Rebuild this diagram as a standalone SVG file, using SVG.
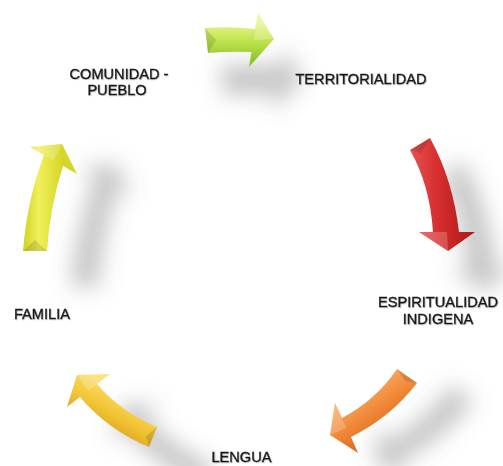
<svg xmlns="http://www.w3.org/2000/svg" width="503" height="466" viewBox="0 0 503 466">
<style>
  .lbl { font-family: "Liberation Sans", Arial, sans-serif; font-size: 14.6px; fill: #1a1a1a; stroke: #1a1a1a; stroke-width: 0.35; text-anchor: middle; filter: url(#ts); }
  .shadow { fill: #666; opacity: 0.38; }
  .hl { fill: #fff; opacity: 0.2; }
  .facet { fill: #000; opacity: 0.12; }
</style>
<defs>
  <filter id="blur" x="-50%" y="-50%" width="200%" height="200%">
    <feGaussianBlur stdDeviation="11"/>
  </filter>
  <filter id="ts" x="-10%" y="-30%" width="120%" height="160%">
    <feDropShadow dx="0.8" dy="0.8" stdDeviation="0.7" flood-color="#000" flood-opacity="0.25"/>
  </filter>
  <linearGradient id="gGreen" gradientUnits="userSpaceOnUse" x1="0" y1="22" x2="0" y2="60">
    <stop offset="0" stop-color="#e6f590"/>
    <stop offset="0.45" stop-color="#c4e652"/>
    <stop offset="1" stop-color="#8cc62c"/>
  </linearGradient>
  <linearGradient id="gRed" gradientUnits="userSpaceOnUse" x1="408" y1="0" x2="470" y2="0">
    <stop offset="0" stop-color="#ea5454"/>
    <stop offset="0.45" stop-color="#d83030"/>
    <stop offset="1" stop-color="#b31a1a"/>
  </linearGradient>
  <linearGradient id="gOrange" gradientUnits="userSpaceOnUse" x1="362" y1="385" x2="392" y2="428">
    <stop offset="0" stop-color="#f8ac66"/>
    <stop offset="0.5" stop-color="#f28a3a"/>
    <stop offset="1" stop-color="#da6a1e"/>
  </linearGradient>
  <linearGradient id="gGold" gradientUnits="userSpaceOnUse" x1="128" y1="395" x2="106" y2="436">
    <stop offset="0" stop-color="#fadd66"/>
    <stop offset="0.5" stop-color="#f2c434"/>
    <stop offset="1" stop-color="#d8a01e"/>
  </linearGradient>
  <linearGradient id="gYellow" gradientUnits="userSpaceOnUse" x1="20" y1="0" x2="62" y2="0">
    <stop offset="0" stop-color="#cccc1c"/>
    <stop offset="0.45" stop-color="#f0f05a"/>
    <stop offset="1" stop-color="#d6d62a"/>
  </linearGradient>
  <path id="aGreen" d="M205,28 Q230,26 255,29 L258,13 L274,39 L249,67 L251.5,52 Q230,51 208,53 Z"/>
  <path id="aRed" d="M410,150 L430,138 Q453,180 459,232 L475,232 L448,251 L419,232 L433,232 Q430,185 410,150 Z"/>
  <path id="aOrange" d="M397,369 L417,383 Q391,417 351,437 L358,453 L330,435 L335,403 L342,418 Q376,400 397,369 Z"/>
  <path id="aGold" d="M77,375 L110,374 L97,384 Q121,412 157,427 L149,447 Q108,430 80,397 L67,407 Z"/>
  <path id="aYellow" d="M23,251 Q27,200 44,155 L30,147 L62,144 L77,174 L63,166 Q50,206 47,251 Z"/>
</defs>
<rect width="503" height="466" fill="#ffffff"/>

<g id="shadows" filter="url(#blur)">
  <use href="#aGreen" class="shadow" transform="translate(262,80) scale(1.2) translate(-240,-40)"/>
  <use href="#aRed" class="shadow" transform="translate(477,227) scale(1.15) translate(-442,-195)"/>
  <use href="#aOrange" class="shadow" transform="translate(423,433) scale(1.15) translate(-373,-411)"/>
  <use href="#aGold" class="shadow" transform="translate(162,445) scale(1.15) translate(-112,-410)"/>
  <use href="#aYellow" class="shadow" transform="translate(102,226) scale(1.15) translate(-50,-198)"/>
</g>

<g id="connectors">
  <g id="arrow-green">
    <use href="#aGreen" fill="url(#gGreen)"/>
    <polygon class="facet" points="205,28 216,40 208,53"/>
    <polygon class="hl" points="274,39 253.5,40 258,13"/>
  </g>
  <g id="arrow-red">
    <use href="#aRed" fill="url(#gRed)"/>
    <polygon class="facet" points="410,150 421,153 430,138"/>
    <polygon class="hl" points="448,251 447,232 419,232"/>
  </g>
  <g id="arrow-orange">
    <use href="#aOrange" fill="url(#gOrange)"/>
    <polygon class="facet" points="397,369 405,381 417,383"/>
    <polygon class="hl" points="330,435 346.5,428 335,403"/>
  </g>
  <g id="arrow-gold">
    <use href="#aGold" fill="url(#gGold)"/>
    <polygon class="facet" points="157,427 146,436 149,447"/>
    <polygon class="hl" points="77,375 88.5,390.5 110,374"/>
  </g>
  <g id="arrow-yellow">
    <use href="#aYellow" fill="url(#gYellow)"/>
    <polygon class="facet" points="23,251 35,240 47,251"/>
    <polygon class="hl" points="62,144 53.5,160.5 30,147"/>
  </g>
</g>

<g id="node-territorialidad">
  <text class="lbl" x="361" y="84">TERRITORIALIDAD</text>
</g>
<g id="node-espiritualidad">
  <text class="lbl" x="438" y="307">ESPIRITUALIDAD</text>
  <text class="lbl" x="438" y="324">INDIGENA</text>
</g>
<g id="node-lengua">
  <text class="lbl" x="241.5" y="462">LENGUA</text>
</g>
<g id="node-familia">
  <text class="lbl" x="42" y="319">FAMILIA</text>
</g>
<g id="node-comunidad">
  <text class="lbl" x="119" y="79">COMUNIDAD -</text>
  <text class="lbl" x="117" y="95">PUEBLO</text>
</g>
</svg>
